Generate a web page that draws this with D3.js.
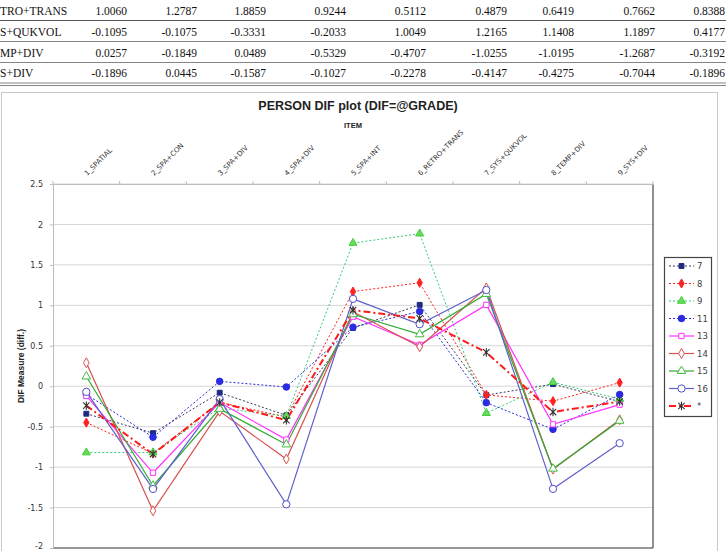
<!DOCTYPE html>
<html>
<head>
<meta charset="utf-8">
<script src="https://cdn.jsdelivr.net/npm/d3@7"></script>
<style>
  html, body { margin: 0; padding: 0; background: #fff; overflow: hidden; }
  svg { display: block; }
</style>
</head>
<body>
<svg id="chart" width="726" height="551"></svg>
<script>
// ---------------- DATA ----------------
const items = ["1_SPATIAL", "2_SPA+CON", "3_SPA+DIV", "4_SPA+DIV", "5_SPA+INT",
               "6_RETRO+TRANS", "7_SYS+QUKVOL", "8_TEMP+DIV", "9_SYS+DIV"];
const seriesNames = ["7", "8", "9", "11", "13", "14", "15", "16", "*"];

const g7   = [-0.34, -0.58, -0.08, -0.36, 0.72, 1.0060, -0.1095,  0.0257, -0.1896];
const g8   = [-0.45, -0.83, -0.20, -0.38, 1.17, 1.2787, -0.1075, -0.1849,  0.0445];
const g9   = [-0.82, -0.82, -0.27, -0.37, 1.77, 1.8859, -0.3331,  0.0489, -0.1587];
const g11  = [-0.10, -0.63,  0.06, -0.01, 0.73, 0.9244, -0.2033, -0.5329, -0.1027];
const g13  = [-0.12, -1.07, -0.20, -0.66, 0.86, 0.5112,  1.0049, -0.4707, -0.2278];
const g14  = [ 0.29, -1.54, -0.31, -0.90, 0.92, 0.4879,  1.2165, -1.0255, -0.4147];
const g15  = [ 0.12, -1.23, -0.28, -0.72, 0.89, 0.6419,  1.1408, -1.0195, -0.4275];
const g16  = [-0.07, -1.27, -0.16, -1.46, 1.08, 0.7662,  1.1897, -1.2687, -0.7044];
const gAll = [-0.24, -0.84, -0.20, -0.42, 0.94, 0.8388,  0.4177, -0.3192, -0.1896];

const yTickValues = [-2, -1.5, -1, -0.5, 0, 0.5, 1, 1.5, 2, 2.5];
// table rows as visible in the (cropped) reference
const tableRowLabels = ["TRO+TRANS", "S+QUKVOL", "MP+DIV", "S+DIV"];
const tableItemIndex = [5, 6, 7, 8];

const titleText = "PERSON DIF plot (DIF=@GRADE)";
const xTitleText = "ITEM";
const yTitleText = "DIF Measure (diff.)";

// ---------------- STYLES / LAYOUT ----------------
const allSeries = [g7, g8, g9, g11, g13, g14, g15, g16, gAll];
const styles = [
  {line: "#3a3a5a", dash: "2,2", w: 1,   sym: "square",   stroke: "#1f2a80", fill: "#1f2a80", size: 24},
  {line: "#ff2222", dash: "2,2", w: 1,   sym: "diamond",  stroke: "#ff2222", fill: "#ff2222", size: 24},
  {line: "#33cc77", dash: "2,2", w: 1,   sym: "triangle", stroke: "#44cc44", fill: "#66dd55", size: 28},
  {line: "#2a2ae0", dash: "2,2", w: 1,   sym: "circle",   stroke: "#2a2ae0", fill: "#2a2ae0", size: 34},
  {line: "#ff33ff", dash: null,  w: 1.2, sym: "square",   stroke: "#ff33ff", fill: "#ffffff", size: 28},
  {line: "#d85050", dash: null,  w: 1.2, sym: "diamond",  stroke: "#d85050", fill: "#ffffff", size: 28},
  {line: "#33aa33", dash: null,  w: 1.2, sym: "triangle", stroke: "#44bb44", fill: "#ffffff", size: 32},
  {line: "#6060cc", dash: null,  w: 1.2, sym: "circle",   stroke: "#5050c8", fill: "#ffffff", size: 42},
  {line: "#ff1a1a", dash: "7,3,2,3", w: 2, sym: "star",   stroke: "#333333", fill: "none",    size: 0}
];

const W = 726, H = 551;
const plot = {left: 53, right: 653, top: 184, bottom: 548};
const tableCols = [127, 197, 266, 346, 426, 507, 574, 655, 725];
const tableRowY = [14.5, 35.5, 56.5, 77];
const tableLineY = [20.5, 41.5, 62.5, 83, 85.5];

const svg = d3.select("#chart");

// ---------------- TABLE (partial, cropped at top) ----------------
const tbl = svg.append("g").attr("font-family", "'Liberation Serif', 'Times New Roman', serif")
  .attr("font-size", 11.5).attr("fill", "#111");
tableLineY.forEach((ly, i) => {
  tbl.append("line").attr("x1", 0).attr("x2", W).attr("y1", ly).attr("y2", ly)
    .attr("stroke", i === 0 ? "#555" : "#777").attr("stroke-width", i === 0 ? 1.2 : 0.9);
});
tableRowLabels.forEach((name, r) => {
  tbl.append("text").attr("x", 0).attr("y", tableRowY[r]).text(name);
  allSeries.forEach((s, c) => {
    tbl.append("text").attr("x", tableCols[c]).attr("y", tableRowY[r])
      .attr("text-anchor", "end").text(s[tableItemIndex[r]].toFixed(4));
  });
});

// ---------------- CHART AREA ----------------
svg.append("rect").attr("x", 1.5).attr("y", 92.5).attr("width", 716).attr("height", 470)
  .attr("fill", "#fff").attr("stroke", "#c8c8c8").attr("stroke-width", 1);

const x = d3.scalePoint().domain(items).range([plot.left, plot.right]).padding(0.5);
const xb = d3.scaleBand().domain(items).range([plot.left, plot.right]);
const y = d3.scaleLinear().domain([-2, 2.5]).range([plot.bottom, plot.top]);

// gridlines
svg.append("g").selectAll("line").data(yTickValues).join("line")
  .attr("x1", plot.left).attr("x2", plot.right)
  .attr("y1", d => y(d)).attr("y2", d => y(d))
  .attr("stroke", "#d6d6d6").attr("stroke-width", 1);

// plot area right & bottom border (dark)
svg.append("line").attr("x1", plot.right).attr("x2", plot.right)
  .attr("y1", plot.top).attr("y2", plot.bottom).attr("stroke", "#444").attr("stroke-width", 1.2);
svg.append("line").attr("x1", plot.left).attr("x2", plot.right)
  .attr("y1", plot.bottom).attr("y2", plot.bottom).attr("stroke", "#444").attr("stroke-width", 1.2);

// y axis
const yAxis = d3.axisLeft(y).tickValues(yTickValues).tickSize(3).tickPadding(7)
  .tickFormat(d => String(d));
const gy = svg.append("g").attr("transform", `translate(${plot.left},0)`).call(yAxis);
gy.select(".domain").attr("stroke", "#bdbdbd");
gy.selectAll(".tick line").attr("stroke", "#bdbdbd");
gy.selectAll(".tick text").attr("font-family", "'DejaVu Sans', Verdana, sans-serif")
  .attr("font-size", 8).attr("fill", "#333")
  .attr("dy", d => (y(d) > H - 6 ? "0.05em" : "0.32em"));

// top axis (category)
const xAxis = d3.axisTop(xb).tickSize(0).tickFormat("");
const gx = svg.append("g").attr("transform", `translate(0,${plot.top})`).call(xAxis);
gx.select(".domain").attr("stroke", "#bdbdbd");
const bounds = items.map(d => xb(d)).concat([xb(items[items.length - 1]) + xb.bandwidth()]);
svg.append("g").selectAll("line").data(bounds).join("line")
  .attr("x1", d => d).attr("x2", d => d)
  .attr("y1", plot.top).attr("y2", plot.top - 3)
  .attr("stroke", "#bdbdbd");
svg.append("g").selectAll("text").data(items).join("text")
  .attr("transform", d => `translate(${x(d) + 1},${plot.top - 8}) rotate(-45)`)
  .attr("font-family", "'DejaVu Sans', Verdana, sans-serif")
  .attr("font-size", 7).attr("fill", "#333")
  .text(d => d);

// titles
svg.append("text").attr("x", 358).attr("y", 110).attr("text-anchor", "middle")
  .attr("font-family", "'Liberation Sans', Arial, sans-serif").attr("font-weight", "bold")
  .attr("font-size", 12.5).attr("fill", "#222").text(titleText);
svg.append("text").attr("x", (plot.left + plot.right) / 2).attr("y", 128).attr("text-anchor", "middle")
  .attr("font-family", "'Liberation Sans', Arial, sans-serif").attr("font-weight", "bold")
  .attr("font-size", 7.5).attr("fill", "#222").text(xTitleText);
svg.append("text")
  .attr("transform", `translate(24,${(plot.top + plot.bottom) / 2}) rotate(-90)`)
  .attr("text-anchor", "middle")
  .attr("font-family", "'Liberation Sans', Arial, sans-serif").attr("font-weight", "bold")
  .attr("font-size", 8.5).attr("fill", "#222").text(yTitleText);

// ---------------- SERIES ----------------
const symMap = {square: d3.symbolSquare, diamond: d3.symbolDiamond,
                triangle: d3.symbolTriangle, circle: d3.symbolCircle};
function drawMarker(g, st, cx, cy) {
  if (st.sym === "star") {
    g.append("path").attr("transform", `translate(${cx},${cy})`)
      .attr("d", "M-3.2,-3.2L3.2,3.2M-3.2,3.2L3.2,-3.2M0,-4.2L0,4.2")
      .attr("stroke", st.stroke).attr("stroke-width", 1.1).attr("fill", "none");
  } else {
    g.append("path").attr("transform", `translate(${cx},${cy})`)
      .attr("d", d3.symbol().type(symMap[st.sym]).size(st.size)())
      .attr("fill", st.fill).attr("stroke", st.stroke).attr("stroke-width", 1);
  }
}

const line = d3.line().x((d, i) => x(items[i])).y(d => y(d));
const plotG = svg.append("g");
allSeries.forEach((vals, si) => {
  const st = styles[si];
  plotG.append("path").datum(vals).attr("d", line)
    .attr("fill", "none").attr("stroke", st.line).attr("stroke-width", st.w)
    .attr("stroke-dasharray", st.dash);
});
allSeries.forEach((vals, si) => {
  const st = styles[si];
  const g = plotG.append("g");
  vals.forEach((v, i) => drawMarker(g, st, x(items[i]), y(v)));
});

// ---------------- LEGEND ----------------
const leg = {x: 664, y: 257, w: 47, h: 159, row0: 266, step: 17.5};
svg.append("rect").attr("x", leg.x + 0.5).attr("y", leg.y + 0.5).attr("width", leg.w).attr("height", leg.h)
  .attr("fill", "#fff").attr("stroke", "#444").attr("stroke-width", 1.2);
seriesNames.forEach((name, i) => {
  const st = styles[i];
  const cy = leg.row0 + i * leg.step;
  const g = svg.append("g");
  g.append("line").attr("x1", leg.x + 5).attr("x2", leg.x + 30).attr("y1", cy).attr("y2", cy)
    .attr("stroke", st.line).attr("stroke-width", st.w).attr("stroke-dasharray", st.dash);
  drawMarker(g, st, leg.x + 17.5, cy);
  g.append("text").attr("x", leg.x + 33).attr("y", cy + 3.2)
    .attr("font-family", "'DejaVu Sans', Verdana, sans-serif").attr("font-size", 8.5)
    .attr("fill", "#404040").text(name);
});
</script>
</body>
</html>
